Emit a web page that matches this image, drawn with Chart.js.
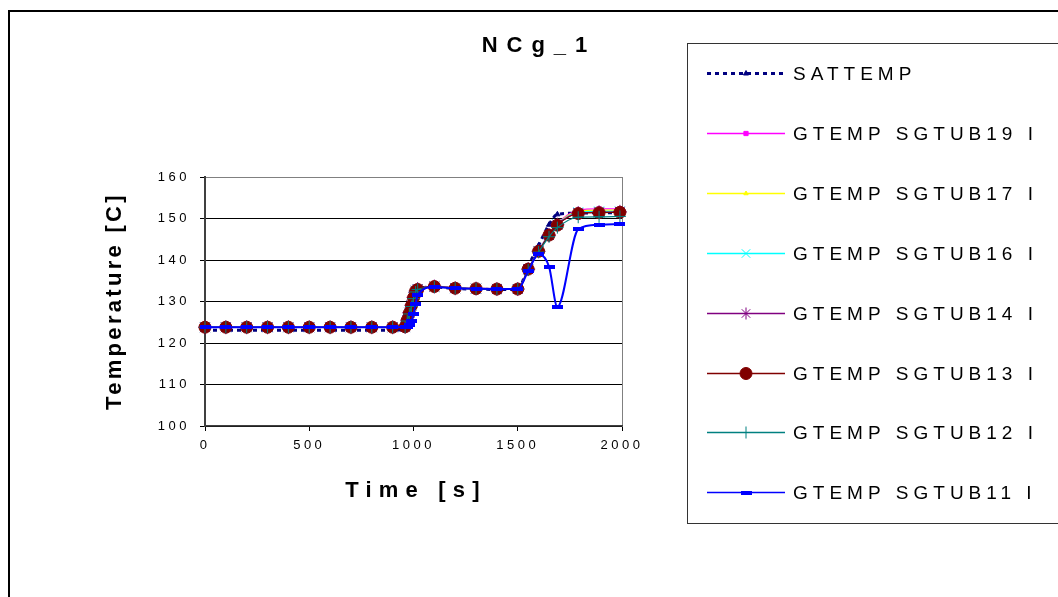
<!DOCTYPE html>
<html><head><meta charset="utf-8">
<script src="https://cdn.jsdelivr.net/npm/chart.js@4.4.0/dist/chart.umd.min.js"></script>
<style>html,body{margin:0;padding:0;background:#fff;}canvas{display:block;}</style>
</head><body>
<canvas id="c" width="1058" height="597"></canvas>
<script>
// ---------- data ----------
const chartTitle = 'NCg_1';
const xTitle = 'Time [s]';
const yTitle = 'Temperature [C]';
const xMin = 0, xMax = 2000, xStep = 500;
const yMin = 100, yMax = 160, yStep = 10;

const seriesNames = ['SATTEMP','GTEMP SGTUB19 I','GTEMP SGTUB17 I','GTEMP SGTUB16 I',
                     'GTEMP SGTUB14 I','GTEMP SGTUB13 I','GTEMP SGTUB12 I','GTEMP SGTUB11 I'];

const times = [0,100,200,300,400,500,600,700,800,900,960,970,980,990,1000,1010,1020,
               1100,1200,1300,1400,1500,1550,1600,1650,1690,1790,1890,1990];

const satTemp  = [123.1,123.1,123.1,123.1,123.1,123.1,123.1,123.1,123.1,123.1,
                  123.4,125.5,127.5,129.5,131.5,132.8,133.1,
                  133.5,133.1,133.0,132.9,132.9,138.5,143.5,148.5,151.0,151.3,151.4,151.4];
const sgtub19  = [123.8,123.8,123.8,123.8,123.8,123.8,123.8,123.8,123.8,123.8,
                  124.0,125.6,127.4,129.2,131.0,132.6,133.0,
                  133.6,133.3,133.2,133.1,133.1,137.8,142.3,146.3,148.8,152.0,152.3,152.3];
const sgtub17  = [123.8,123.8,123.8,123.8,123.8,123.8,123.8,123.8,123.8,123.8,
                  124.0,125.6,127.4,129.2,131.0,132.6,133.0,
                  133.6,133.3,133.2,133.1,133.1,137.8,142.2,146.2,148.7,151.8,152.0,152.0];
const sgtub16  = [123.8,123.8,123.8,123.8,123.8,123.8,123.8,123.8,123.8,123.8,
                  123.9,125.5,127.3,129.1,131.0,132.6,133.0,
                  133.6,133.2,133.1,133.0,133.0,137.8,142.2,146.1,148.6,151.5,151.7,151.7];
const sgtub14  = [123.8,123.8,123.8,123.8,123.8,123.8,123.8,123.8,123.8,123.8,
                  123.9,125.5,127.3,129.1,131.0,132.5,133.0,
                  133.6,133.2,133.1,133.0,133.0,137.8,142.1,146.0,148.5,151.3,151.5,151.6];
const sgtub13  = [123.8,123.8,123.8,123.8,123.8,123.8,123.8,123.8,123.8,123.8,
                  123.9,125.5,127.2,129.0,130.9,132.5,132.9,
                  133.6,133.2,133.1,133.0,133.0,137.8,142.1,146.0,148.4,151.2,151.4,151.5];
const sgtub12  = [123.8,123.8,123.8,123.8,123.8,123.8,123.8,123.8,123.8,123.8,
                  123.8,125.3,127.0,128.8,130.7,132.3,132.9,
                  133.5,133.2,133.1,133.0,133.0,137.6,141.9,145.6,147.8,150.3,150.4,150.5];
const sgtub11  = [123.8,123.8,123.8,123.8,123.8,123.8,123.8,123.8,123.8,123.8,
                  123.8,123.9,124.3,125.2,127.0,129.3,131.5,
                  133.5,133.2,133.1,133.0,133.0,137.3,141.4,138.4,128.7,147.4,148.5,148.7];

const seriesValues = [satTemp, sgtub19, sgtub17, sgtub16, sgtub14, sgtub13, sgtub12, sgtub11];

// ---------- styles ----------
const dashMarker = document.createElement('canvas');
dashMarker.width = 11; dashMarker.height = 4;
(function(){ const d = dashMarker.getContext('2d'); d.fillStyle = '#0000FF'; d.fillRect(0,0,11,4); })();

const seriesStyles = [
  {color:'#000080', width:3,   dash:[4,4], pointStyle:'triangle', radius:3},
  {color:'#FF00FF', width:1.2, dash:[],    pointStyle:'rect',     radius:3},
  {color:'#FFFF00', width:1.2, dash:[],    pointStyle:'triangle', radius:2.5},
  {color:'#00FFFF', width:1.2, dash:[],    pointStyle:'crossRot', radius:7},
  {color:'#800080', width:1.2, dash:[],    pointStyle:'star',     radius:7},
  {color:'#800000', width:1.2, dash:[],    pointStyle:'circle',   radius:6},
  {color:'#008080', width:1.2, dash:[],    pointStyle:'cross',    radius:6},
  {color:'#0000FF', width:2,   dash:[],    pointStyle:dashMarker, radius:5}
];

const datasets = seriesNames.map((name, i) => {
  const s = seriesStyles[i];
  return {
    label: name,
    data: times.map((t, k) => ({x: t, y: seriesValues[i][k]})),
    borderColor: s.color,
    backgroundColor: s.color,
    borderWidth: s.width,
    borderDash: s.dash,
    pointStyle: s.pointStyle,
    pointRadius: s.radius,
    pointHoverRadius: s.radius,
    pointBorderWidth: 1,
    pointBorderColor: s.color,
    pointBackgroundColor: s.color,
    cubicInterpolationMode: 'monotone',
    clip: false,
    order: seriesNames.length - 1 - i
  };
});

const FONT = '"Liberation Sans", Arial, sans-serif';

const decor = {
  id: 'decor',
  beforeDraw(chart) {
    chart.ctx.letterSpacing = '3.5px';
  },
  afterDraw(chart) {
    const ctx = chart.ctx;
    ctx.save();
    // outer frame
    ctx.strokeStyle = '#000'; ctx.lineWidth = 2;
    ctx.strokeRect(9, 11, 1200, 800);
    // legend box
    ctx.strokeStyle = '#333'; ctx.lineWidth = 1;
    ctx.strokeRect(687.5, 43.5, 500, 480);
    // title
    ctx.fillStyle = '#000';
    ctx.letterSpacing = '9px';
    ctx.font = 'bold 22px ' + FONT;
    ctx.textAlign = 'center'; ctx.textBaseline = 'middle';
    ctx.fillText(chartTitle, 539, 46);
    // x title
    ctx.letterSpacing = '7.2px';
    ctx.fillText(xTitle, 416, 491);
    // y title
    ctx.letterSpacing = '3.3px';
    ctx.save();
    ctx.translate(115, 301);
    ctx.rotate(-Math.PI/2);
    ctx.fillText(yTitle, 0, 0);
    ctx.restore();
    // legend
    ctx.letterSpacing = '5px';
    ctx.font = '19px ' + FONT;
    ctx.textAlign = 'left';
    const rowY0 = 73, rowGap = 59.9;
    chart.data.datasets.forEach((ds, i) => {
      const y = Math.round(rowY0 + i*rowGap) + 0.5;
      ctx.save();
      ctx.strokeStyle = ds.borderColor;
      ctx.lineWidth = ds.borderWidth >= 3 ? 3 : 1.5;
      ctx.setLineDash(ds.borderDash || []);
      ctx.beginPath(); ctx.moveTo(707, y); ctx.lineTo(785, y); ctx.stroke();
      ctx.setLineDash([]);
      ctx.fillStyle = ds.pointBackgroundColor;
      ctx.strokeStyle = ds.pointBorderColor;
      ctx.lineWidth = 1;
      Chart.helpers.drawPoint(ctx, {pointStyle: ds.pointStyle, rotation: 0, radius: Math.min(ds.pointRadius, 6), borderWidth: 1}, 746, y);
      ctx.restore();
      ctx.fillStyle = '#000';
      ctx.fillText(ds.label, 793, y + 1);
    });
    ctx.restore();
  }
};

new Chart(document.getElementById('c'), {
  type: 'line',
  data: { datasets },
  plugins: [decor],
  options: {
    responsive: false,
    devicePixelRatio: 1,
    animation: false,
    layout: { padding: { left: 105, right: 436, top: 177, bottom: 91 } },
    plugins: { legend: { display: false }, tooltip: { enabled: false }, title: { display: false } },
    scales: {
      x: {
        type: 'linear', min: xMin, max: xMax,
        afterFit(s) { s.height = 80; },
        ticks: { stepSize: xStep, color: '#000', font: { family: FONT, size: 13 }, padding: 7, maxRotation: 0,
                 callback: v => String(v) },
        grid: {
          color: c => (c.tick && c.tick.value === xMax) ? '#808080' : 'rgba(0,0,0,0)',
          tickColor: '#000', tickLength: 5, lineWidth: 1
        },
        border: { display: true, color: '#404040', width: 1.5 }
      },
      y: {
        type: 'linear', min: yMin, max: yMax,
        afterFit(s) { s.width = 100; },
        ticks: { stepSize: yStep, color: '#000', font: { family: FONT, size: 13 }, padding: 10,
                 callback: v => String(v) },
        grid: {
          color: c => (c.tick && c.tick.value === yMax) ? '#808080' : '#000',
          tickColor: '#000', tickLength: 5, lineWidth: 1
        },
        border: { display: true, color: '#404040', width: 2 }
      }
    }
  }
});
</script>
</body></html>
